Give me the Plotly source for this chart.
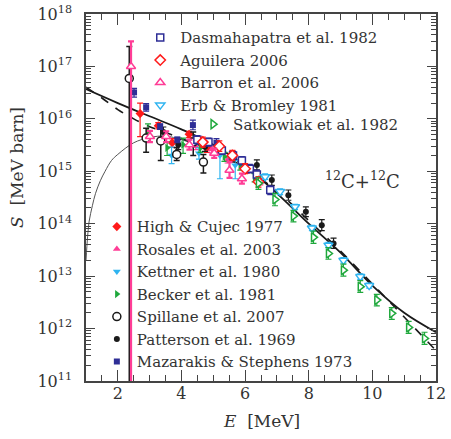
import plotly.graph_objects as go

# ---------------- model curves ----------------
solid_E = [1, 2, 3, 4, 5, 6, 7, 8, 9, 10, 11, 12]
solid_S = [3.7e16, 2.0e16, 1.12e16, 6.3e15, 3.2e15, 1.26e15, 3.8e14, 1.0e14, 2.8e13, 6.6e12, 2.0e12, 8.5e11]

dashed_E = [1, 1.5, 2, 2.5, 3, 3.5, 4, 5, 6, 7, 8, 9, 10, 11, 12]
dashed_S = [4.0e16, 2.5e16, 1.5e16, 1.0e16, 7.1e15, 5.5e15, 4.2e15, 2.5e15, 1.15e15, 4.2e14, 1.15e14, 3.0e13, 7.1e12, 1.66e12, 3.8e11]

thin_E = [1.0, 1.05, 1.1, 1.2, 1.3, 1.45, 1.6, 1.8, 2.0, 2.5, 3.0, 3.5, 4.0, 4.5, 5.0]
thin_S = [2.0e13, 5.6e13, 1.12e14, 2.2e14, 3.8e14, 6.6e14, 1.0e15, 1.6e15, 2.1e15, 3.5e15, 4.4e15, 4.7e15, 4.0e15, 3.2e15, 2.5e15]

# ---------------- data sets ----------------
dasma_E = [4.5, 4.85, 5.27, 5.62, 5.90, 6.15, 6.37, 6.79]
dasma_S = [4.0e15, 3.6e15, 2.5e15, 2.0e15, 1.6e15, 1.12e15, 8.7e14, 4.4e14]
dasma_lo = [3.3e15, 3.0e15, 2.1e15, 1.65e15, 1.33e15, 9.3e14, 7.2e14, 3.6e14]
dasma_hi = [4.8e15, 4.3e15, 3.0e15, 2.4e15, 1.9e15, 1.35e15, 1.05e15, 5.3e14]

aguil_E = [4.67, 5.19, 5.6, 6.0, 6.42]
aguil_S = [3.6e15, 3.0e15, 2.0e15, 1.12e15, 6.3e14]
aguil_lo = [2.9e15, 2.4e15, 1.6e15, 9.0e14, 5.0e14]
aguil_hi = [4.5e15, 3.8e15, 2.5e15, 1.4e15, 7.9e14]

barron_E = [2.415, 3.01, 3.52, 4.25, 5.03, 5.51, 5.90]
barron_S = [1.0e17, 4.6e15, 4.6e15, 3.2e15, 2.2e15, 1.05e15, 7.2e14]
barron_lo = [1e10, 3.6e15, 3.6e15, 2.6e15, 1.8e15, 7.5e14, 5.8e14]
barron_hi = [3.0e17, 5.9e15, 5.8e15, 4.0e15, 2.7e15, 1.5e15, 9.0e14]

erb_E = [6.63, 7.10, 7.57, 8.10, 8.62, 9.09, 9.62, 9.90]
erb_S = [7.9e14, 4.1e14, 2.1e14, 8.3e13, 3.9e13, 2.0e13, 9.8e12, 6.6e12]
erb_lo = [7.0e14, 3.6e14, 1.85e14, 7.4e13, 3.5e13, 1.78e13, 8.7e12, 5.9e12]
erb_hi = [8.9e14, 4.6e14, 2.35e14, 9.3e13, 4.4e13, 2.25e13, 1.1e13, 7.4e12]

satk_E = [6.42, 6.94, 7.52, 8.15, 8.62, 9.09, 9.62, 10.14, 10.61, 11.14, 11.64]
satk_S = [5.9e14, 2.9e14, 1.4e14, 5.5e13, 2.7e13, 1.3e13, 6.3e12, 3.5e12, 1.95e12, 1.05e12, 6.5e11]
satk_lo = [4.5e14, 2.2e14, 1.08e14, 4.2e13, 2.1e13, 1.0e13, 4.9e12, 2.7e12, 1.5e12, 8.1e11, 5.0e11]
satk_hi = [7.7e14, 3.8e14, 1.8e14, 7.2e13, 3.5e13, 1.7e13, 8.2e12, 4.5e12, 2.5e12, 1.37e12, 8.5e11]

high_E = [2.70, 3.27, 3.71, 4.24, 4.8]
high_S = [1.26e16, 7.4e15, 3.5e15, 5.1e15, 2.8e15]
high_lo = [4.6e15, 6.4e15, 2.9e15, 4.4e15, 2.3e15]
high_hi = [2.0e16, 8.5e15, 4.2e15, 5.8e15, 3.4e15]

rosal_E = [4.45, 4.95, 5.45, 6.05, 6.48]
rosal_S = [3.0e15, 2.6e15, 1.66e15, 1.05e15, 6.3e14]
rosal_lo = [2.6e15, 2.25e15, 1.44e15, 9.1e14, 5.5e14]
rosal_hi = [3.45e15, 3.0e15, 1.9e15, 1.2e15, 7.2e14]

kett_E = [3.69, 4.55, 5.21, 5.69]
kett_S = [2.0e15, 2.2e15, 2.0e15, 1.3e15]
kett_lo = [1.4e15, 1.7e15, 7.2e14, 7.2e14]
kett_hi = [2.9e15, 2.8e15, 2.4e15, 1.6e15]

becker_E = [2.95, 3.55, 4.05, 4.6, 5.35, 5.85, 6.3]
becker_S = [5.6e15, 2.8e15, 3.2e15, 2.8e15, 1.9e15, 1.26e15, 7.6e14]
becker_lo = [3.8e15, 2.0e15, 2.2e15, 2.3e15, 1.55e15, 1.05e15, 6.3e14]
becker_hi = [8.0e15, 3.6e15, 4.3e15, 3.4e15, 2.3e15, 1.5e15, 9.0e14]

spill_E = [2.36, 2.89, 3.35, 3.85, 4.37, 4.69]
spill_S = [5.9e16, 4.3e15, 3.8e15, 2.1e15, 3.6e15, 1.5e15]
spill_lo = [1e10, 2.3e15, 1.6e15, 1.6e15, 2.0e15, 9.3e14]
spill_hi = [2.4e17, 6.6e15, 6.6e15, 2.8e15, 5.6e15, 2.1e15]

patt_E = [3.43, 3.90, 4.74, 5.6, 6.37, 6.84, 7.36, 7.91, 8.41, 8.78]
patt_S = [5.6e15, 3.2e15, 2.95e15, 1.9e15, 1.32e15, 6.8e14, 3.5e14, 1.7e14, 9.3e13, 4.2e13]
patt_lo = [4.5e15, 2.6e15, 2.4e15, 1.5e15, 1.06e15, 5.4e14, 2.8e14, 1.36e14, 7.4e13, 3.4e13]
patt_hi = [7.0e15, 4.0e15, 3.7e15, 2.4e15, 1.65e15, 8.5e14, 4.4e14, 2.1e14, 1.2e14, 5.3e13]

maz_E = [2.51, 2.89, 3.33, 3.87, 4.36, 5.1]
maz_S = [3.2e16, 1.66e16, 7.1e15, 4.0e15, 7.6e15, 3.5e15]
maz_lo = [2.6e16, 1.4e16, 6.3e15, 3.5e15, 6.2e15, 2.9e15]
maz_hi = [3.8e16, 1.95e16, 8.0e15, 4.5e15, 9.5e15, 4.2e15]

y_tick_vals = [1e11, 1e12, 1e13, 1e14, 1e15, 1e16, 1e17, 1e18]
y_tick_text = ["10<sup>11</sup>", "10<sup>12</sup>", "10<sup>13</sup>", "10<sup>14</sup>",
               "10<sup>15</sup>", "10<sup>16</sup>", "10<sup>17</sup>", "10<sup>18</sup>"]
x_tick_vals = [2, 4, 6, 8, 10, 12]

NAVY = "#2e2e96"
RED = "#ff1a1a"
PINK = "#ff3d96"
CYAN = "#2fb4f0"
GREEN = "#1fa83c"
BLACK = "#1a1a1a"
FONT = "DejaVu Serif"

fig = go.Figure()

fig.add_trace(go.Scatter(x=thin_E, y=thin_S, mode="lines", line=dict(color="#555555", width=1, shape="spline"),
                         showlegend=False, hoverinfo="skip"))
fig.add_trace(go.Scatter(x=dashed_E, y=dashed_S, mode="lines",
                         line=dict(color=BLACK, width=1.6, dash="dash", shape="spline"),
                         showlegend=False, hoverinfo="skip"))
fig.add_trace(go.Scatter(x=solid_E, y=solid_S, mode="lines", line=dict(color=BLACK, width=1.8, shape="spline"),
                         showlegend=False, hoverinfo="skip"))


def add(name, E, S, lo, hi, symbol, color, size, legend, filled, ethick=1.2):
    up = [h - s for h, s in zip(hi, S)]
    dn = [s - l for s, l in zip(S, lo)]
    marker = dict(symbol=symbol, size=size)
    if filled:
        marker.update(color=color, line=dict(width=0))
    else:
        marker.update(color="white", line=dict(color=color, width=1.5))
    fig.add_trace(go.Scatter(
        x=E, y=S, mode="markers", name=name, legend=legend, marker=marker,
        error_y=dict(type="data", symmetric=False, array=up, arrayminus=dn,
                     color=color, thickness=ethick, width=3)))


# bottom legend group
add("High & Cujec 1977", high_E, high_S, high_lo, high_hi, "diamond", RED, 7, "legend3", True)
add("Rosales et al. 2003", rosal_E, rosal_S, rosal_lo, rosal_hi, "triangle-up", PINK, 7, "legend3", True)
add("Kettner et al. 1980", kett_E, kett_S, kett_lo, kett_hi, "triangle-down", CYAN, 7, "legend3", True)
add("Becker et al. 1981", becker_E, becker_S, becker_lo, becker_hi, "triangle-right", GREEN, 7, "legend3", True)
add("Spillane et al. 2007", spill_E, spill_S, spill_lo, spill_hi, "circle", BLACK, 8, "legend3", False, 1.5)
add("Patterson et al. 1969", patt_E, patt_S, patt_lo, patt_hi, "circle", BLACK, 6, "legend3", True)
add("Mazarakis & Stephens 1973", maz_E, maz_S, maz_lo, maz_hi, "square", NAVY, 6, "legend3", True)
# top legend group
add("Dasmahapatra et al. 1982", dasma_E, dasma_S, dasma_lo, dasma_hi, "square", NAVY, 7, "legend", False)
add("Aguilera 2006", aguil_E, aguil_S, aguil_lo, aguil_hi, "diamond", RED, 8, "legend", False)
add("Barron et al. 2006", barron_E, barron_S, barron_lo, barron_hi, "triangle-up", PINK, 8, "legend", False, 2.2)
add("Erb & Bromley 1981", erb_E, erb_S, erb_lo, erb_hi, "triangle-down", CYAN, 8, "legend", False)
add("Satkowiak et al. 1982", satk_E, satk_S, satk_lo, satk_hi, "triangle-right", GREEN, 8, "legend2", False)

axis_common = dict(showline=True, linecolor="#444444", linewidth=1.5, mirror="ticks", ticks="inside",
                   tickcolor="#444444", showgrid=False, zeroline=False, automargin=False,
                   ticklabeloverflow="allow",
                   tickfont=dict(family=FONT, size=16, color="#333333"))

fig.update_xaxes(range=[1, 12], tickmode="array", tickvals=x_tick_vals, ticklen=11, tickwidth=1.2,
                 ticklabelstandoff=-3,
                 minor=dict(ticks="inside", ticklen=6, tickcolor="#444444", dtick=0.5, tick0=0, showgrid=False),
                 **axis_common)
minor_y = [d * 10 ** n for n in range(11, 18) for d in range(2, 10)]
fig.update_yaxes(type="log", range=[11, 18], tickmode="array", tickvals=y_tick_vals, ticktext=y_tick_text,
                 ticklen=9, tickwidth=1.2, ticklabelstandoff=9,
                 minor=dict(ticks="inside", ticklen=5, tickcolor="#444444", tickmode="array", tickvals=minor_y,
                            showgrid=False),
                 **axis_common)

legend_common = dict(bgcolor="rgba(0,0,0,0)", borderwidth=0, xanchor="left", yanchor="top",
                     font=dict(family=FONT, size=15, color="#333333"), itemsizing="trace",
                     tracegroupgap=0)
fig.update_layout(
    width=451, height=439,
    margin=dict(l=86, r=15, t=14, b=58),
    paper_bgcolor="white", plot_bgcolor="white",
    legend=dict(x=0.155, y=0.980, **legend_common),
    legend2=dict(x=0.306, y=0.744, **legend_common),
    legend3=dict(x=0.031, y=0.465, **legend_common),
    annotations=[
        dict(text="<sup>12</sup>C+<sup>12</sup>C", xref="paper", yref="paper", x=(362 - 86) / 350,
             y=(381 - 180) / 367, xanchor="center", yanchor="middle", showarrow=False,
             font=dict(family=FONT, size=18, color="#333333")),
        dict(text="<i>E</i>  [MeV]", xref="paper", yref="paper", x=0.5, y=(381 - 421) / 367,
             xanchor="center", yanchor="middle",
             showarrow=False, font=dict(family=FONT, size=17, color="#333333")),
        dict(text="<i>S</i>  [MeV barn]", xref="paper", yref="paper", x=(17 - 86) / 350,
             y=(381 - 168) / 367, xanchor="center", yanchor="middle", showarrow=False, textangle=-90,
             font=dict(family=FONT, size=17, color="#333333")),
    ],
)

fig.write_html("out.html", config={"displayModeBar": False},
               post_script="document.body.style.margin='0px';")
